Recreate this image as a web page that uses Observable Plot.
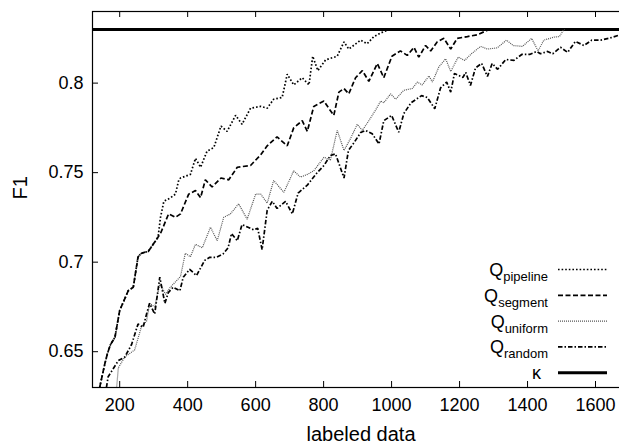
<!DOCTYPE html>
<html><head><meta charset="utf-8">
<script src="https://cdn.jsdelivr.net/npm/d3@7"></script>
<script src="https://cdn.jsdelivr.net/npm/@observablehq/plot@0.6"></script>
<style>
html,body{margin:0;padding:0;overflow:hidden;background:#fff;}
#wrap{position:relative;width:629px;height:444px;font-family:"Liberation Sans",Arial,Helvetica,sans-serif;}
#wrap svg{max-width:none !important;}
#legend{position:absolute;left:0;top:0;pointer-events:none;}
</style></head><body><div id="wrap"></div>
<script>
// ---- data ----
const xTicks = [200, 400, 600, 800, 1000, 1200, 1400, 1600];
const yTicks = [0.65, 0.7, 0.75, 0.8];
const xLabel = "labeled data";
const yLabel = "F1";
const kappa = 0.83;
const seriesNames = ["pipeline", "segment", "uniform", "random"];

const pipelineX = [141,156,164,173,186,200,225,240,254,264,284,313,320,330,340,350,364,374,379,408,423,438,457,477,498,516,541,560,585,615,634,653,678,693,712,737,757,768,783,806,840,860,874,909,928,948,968,987,997];
const pipelineF1 = [0.630,0.643,0.649,0.654,0.658,0.673,0.684,0.686,0.703,0.705,0.706,0.714,0.725,0.734,0.735,0.736,0.738,0.746,0.747,0.749,0.758,0.753,0.762,0.764,0.776,0.773,0.782,0.777,0.786,0.787,0.786,0.791,0.792,0.805,0.799,0.803,0.799,0.815,0.807,0.813,0.815,0.823,0.819,0.824,0.822,0.826,0.828,0.8295,0.830];

const segmentX = [141,156,164,173,186,200,225,240,254,264,284,313,320,344,364,379,403,423,438,452,472,498,521,546,585,615,634,663,693,712,737,752,771,801,815,830,845,860,874,894,914,933,958,977,1001,1026,1046,1066,1080,1100,1115,1134,1154,1174,1193,1223,1252,1282,1291];
const segmentF1 = [0.630,0.643,0.649,0.654,0.658,0.673,0.684,0.686,0.703,0.705,0.706,0.714,0.716,0.727,0.725,0.727,0.738,0.740,0.736,0.746,0.742,0.747,0.746,0.753,0.754,0.760,0.765,0.770,0.765,0.775,0.779,0.773,0.787,0.790,0.786,0.782,0.795,0.797,0.794,0.803,0.807,0.801,0.811,0.803,0.815,0.818,0.8155,0.820,0.8145,0.821,0.818,0.823,0.825,0.819,0.825,0.826,0.827,0.8295,0.830];

const uniformX = [191,196,215,244,264,279,288,303,318,335,349,379,393,408,423,443,467,487,506,526,550,575,600,615,634,653,683,712,732,752,771,801,820,840,860,879,899,914,933,953,968,977,997,1012,1036,1061,1076,1090,1110,1120,1139,1159,1174,1196,1215,1235,1262,1282,1311,1338,1358,1385,1412,1431,1448,1478,1494,1505,1509];
const uniformF1 = [0.630,0.641,0.647,0.651,0.664,0.667,0.677,0.675,0.688,0.682,0.686,0.692,0.705,0.703,0.710,0.708,0.7195,0.712,0.725,0.727,0.7326,0.724,0.738,0.738,0.733,0.7456,0.739,0.751,0.7475,0.749,0.751,0.7586,0.757,0.7736,0.7624,0.769,0.777,0.7736,0.779,0.785,0.790,0.789,0.794,0.791,0.796,0.797,0.8006,0.799,0.804,0.8006,0.809,0.8136,0.8065,0.8145,0.8127,0.8164,0.8205,0.819,0.8197,0.824,0.821,0.8205,0.825,0.818,0.824,0.8257,0.826,0.8295,0.830];

const randomX = [161,166,196,215,235,254,269,279,288,303,318,333,343,357,377,387,406,426,450,465,485,504,519,529,546,560,595,606,619,634,649,663,688,708,725,752,781,801,820,835,860,873,889,909,923,943,963,977,1000,1021,1036,1057,1088,1105,1127,1144,1162,1174,1185,1210,1218,1232,1247,1265,1282,1296,1312,1336,1360,1383,1406,1427,1438,1459,1474,1497,1518,1541,1566,1589,1615,1639,1668];
const randomF1 = [0.630,0.636,0.645,0.647,0.654,0.6655,0.6636,0.671,0.677,0.671,0.6916,0.677,0.683,0.686,0.684,0.6916,0.696,0.6925,0.701,0.7027,0.7027,0.7046,0.708,0.716,0.712,0.721,0.718,0.719,0.707,0.729,0.734,0.730,0.734,0.727,0.7386,0.743,0.750,0.754,0.7596,0.7605,0.747,0.7624,0.7666,0.7724,0.7736,0.7717,0.766,0.779,0.782,0.7726,0.783,0.789,0.793,0.792,0.7857,0.7973,0.8006,0.795,0.8054,0.8032,0.806,0.7987,0.8085,0.811,0.8037,0.811,0.8077,0.8132,0.8127,0.816,0.816,0.8177,0.8164,0.8177,0.8164,0.820,0.8172,0.8233,0.821,0.824,0.824,0.825,0.8267];

// ---- styles ----
const FONT = '"Liberation Sans", Arial, Helvetica, sans-serif';
const W = 629, H = 444, ML = 92, MR = 0, MT = 11, MB = 57, TICK = 6;
const frameW = W - ML - MR, frameH = H - MT - MB;
const series = [
  {name: seriesNames[0], x: pipelineX, y: pipelineF1, stroke: "#000", width: 1.7, dash: "1.6,2"},
  {name: seriesNames[1], x: segmentX, y: segmentF1, stroke: "#000", width: 1.7, dash: "5,2.5"},
  {name: seriesNames[2], x: uniformX, y: uniformF1, stroke: "#555", width: 1.2, dash: "1,1"},
  {name: seriesNames[3], x: randomX, y: randomF1, stroke: "#000", width: 1.7, dash: "4.5,2,1.5,2"}
];

const lineMarks = series.map(s => Plot.line(
  s.x.map((v, i) => ({x: v, y: s.y[i]})),
  {x: "x", y: "y", stroke: s.stroke, strokeWidth: s.width, strokeDasharray: s.dash,
   strokeLinecap: "butt", strokeLinejoin: "miter", clip: true}
));

const fmt = d => String(d);
const chart = Plot.plot({
  width: W, height: H,
  marginLeft: ML, marginRight: MR, marginTop: MT, marginBottom: MB,
  style: {fontFamily: FONT, fontSize: "18px", color: "#000", background: "#fff"},
  x: {domain: [120, 1700]},
  y: {domain: [0.63, 0.84]},
  marks: [
    Plot.ruleY([kappa], {stroke: "#000", strokeWidth: 3}),
    ...lineMarks,
    // inward ticks (bottom, top, left)
    Plot.ruleX(xTicks, {x: d => d, insetTop: frameH - TICK, stroke: "#000", strokeWidth: 1}),
    Plot.ruleX(xTicks, {x: d => d, insetBottom: frameH - TICK, stroke: "#000", strokeWidth: 1}),
    Plot.ruleY(yTicks, {y: d => d, insetRight: frameW - TICK, stroke: "#000", strokeWidth: 1}),
    Plot.frame({stroke: "#000", strokeWidth: 1.2}),
    // tick labels
    Plot.axisX(xTicks, {anchor: "bottom", tickSize: 0, tickPadding: 10.5, fontSize: 18, tickFormat: fmt, label: null}),
    Plot.axisY(yTicks, {anchor: "left", tickSize: 0, tickPadding: 9, fontSize: 18, tickFormat: fmt, label: null}),
    Plot.text([xLabel], {text: d => d, frameAnchor: "bottom", dy: 53, lineAnchor: "bottom", fontSize: 20}),
    Plot.text([yLabel], {text: d => d, frameAnchor: "left", dx: -72, rotate: -90, lineAnchor: "middle", fontSize: 20})
  ]
});
chart.style.maxWidth = "none";
document.getElementById("wrap").appendChild(chart);

// ---- legend (inside plot, lower right) ----
const leg = d3.select("#wrap").append("svg").attr("id", "legend")
  .attr("width", W).attr("height", H)
  .style("font-family", FONT);
const legY0 = 269.5, legStep = 25.8;
const legRows = [...series, {kappa: true, stroke: "#000", width: 3, dash: null}];
legRows.forEach((s, i) => {
  const y = legY0 + i * legStep;
  const t = leg.append("text")
    .attr("x", s.kappa ? 541 : 548).attr("y", y + 6.5)
    .attr("text-anchor", "end").attr("font-size", 18).attr("fill", "#000");
  if (s.kappa) {
    t.text("κ");
  } else {
    t.append("tspan").text("Q");
    t.append("tspan").attr("dy", 5).attr("font-size", 13).text(s.name);
  }
  const l = leg.append("line")
    .attr("x1", 558).attr("x2", 607).attr("y1", y).attr("y2", y)
    .attr("stroke", s.stroke).attr("stroke-width", s.width);
  if (s.dash) l.attr("stroke-dasharray", s.dash);
});
</script>
</body></html>
